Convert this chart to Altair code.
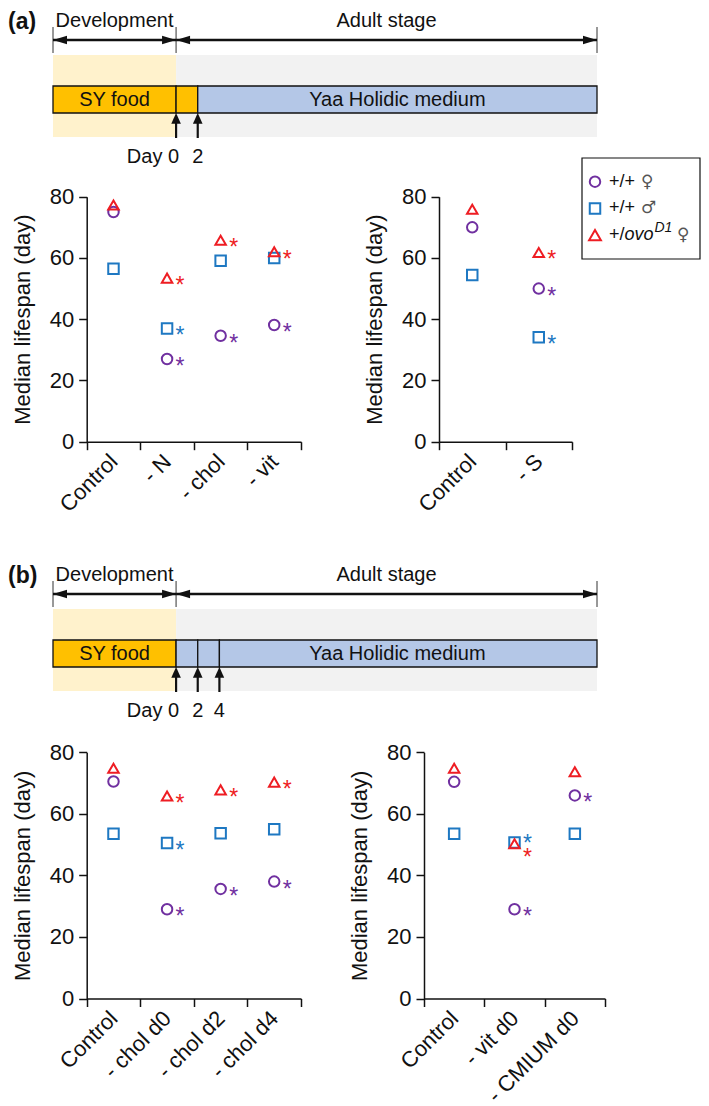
import altair as alt
import pandas as pd

FONT = "Liberation Sans"
INK = "#111111"
W, H = 693, 1098

# ---------------- series (shared by all panels) ----------------
series_keys = ["wt_f", "wt_m", "ovo_f"]
series_colors = ["#7030A0", "#1E78C2", "#EE1D23"]
series_shapes = ["circle", "square", "triangle-up"]
series_sizes = [110, 110, 140]

# ---------------- (a) left panel ----------------
a1_cats = ["Control", "- N", "- chol", "- vit"]
a1_wt_f = [75.0, 27.0, 34.6, 38.1]
a1_wt_m = [56.5, 37.0, 59.1, 60.0]
a1_ovo_f = [77.3, 53.4, 65.8, 62.0]
a1_sig_wt_f = [0, 1, 1, 1]
a1_sig_wt_m = [0, 1, 0, 0]
a1_sig_ovo_f = [0, 1, 1, 1]

# ---------------- (a) right panel ----------------
a2_cats = ["Control", "- S"]
a2_wt_f = [70.0, 50.0]
a2_wt_m = [54.4, 34.1]
a2_ovo_f = [75.9, 61.8]
a2_sig_wt_f = [0, 1]
a2_sig_wt_m = [0, 1]
a2_sig_ovo_f = [0, 1]

# ---------------- (b) left panel ----------------
b1_cats = ["Control", "- chol d0", "- chol d2", "- chol d4"]
b1_wt_f = [70.5, 29.0, 35.6, 38.0]
b1_wt_m = [53.5, 50.5, 53.7, 55.0]
b1_ovo_f = [74.8, 65.8, 67.8, 70.3]
b1_sig_wt_f = [0, 1, 1, 1]
b1_sig_wt_m = [0, 1, 0, 0]
b1_sig_ovo_f = [0, 1, 1, 1]

# ---------------- (b) right panel ----------------
b2_cats = ["Control", "- vit d0", "- CMIUM d0"]
b2_wt_f = [70.4, 29.0, 66.0]
b2_wt_m = [53.5, 50.7, 53.5]
b2_ovo_f = [74.8, 50.3, 73.7]
b2_sig_wt_f = [0, 1, 1]
b2_sig_wt_m = [0, 1, 0]
b2_sig_ovo_f = [0, 1, 0]

y_ticks = [0, 20, 40, 60, 80]
y_title = "Median lifespan (day)"

# ---------------- legend text pieces ----------------
legend_prefix = ["+/+", "+/+", "+/"]
legend_italic = ["", "", "ovo"]
legend_sup = ["", "", "D1"]
legend_sex = ["\u2640", "\u2642", "\u2640"]

# ---------------- timeline schematic ----------------
stage_names = ["Development", "Adult stage"]
stage_edges = [0.0, 10.0, 44.2]          # schematic units
stage_fills = ["#FFF2CC", "#F2F2F2"]
diet_names = ["SY food", "Yaa Holidic medium"]
diet_fills = ["#FFC000", "#B4C7E7"]
a_marker_days = [0, 2]
a_switch_day = 2
b_marker_days = [0, 2, 4]
b_switch_day = 0
DAY_UNIT = 0.88

HEAD_R = "M1,0L-1,-0.6L-1,0.6Z"
HEAD_L = "M-1,0L1,-0.6L1,0.6Z"
HEAD_U = "M0,-1L-0.8,0.8L0.8,0.8Z"


def day_x(d):
    return stage_edges[1] + DAY_UNIT * d


def timeline(letter, marker_days, switch_day, y0):
    xs = alt.Scale(domain=[stage_edges[0], stage_edges[-1]], range=[45, 589])

    def X(field):
        return alt.X(f"{field}:Q", scale=xs, axis=None)

    def Y(v):
        return alt.value(y0 + v)

    stages = pd.DataFrame({"name": stage_names, "start": stage_edges[:-1],
                           "end": stage_edges[1:], "fill": stage_fills})
    stages["mid"] = (stages["start"] + stages["end"]) / 2
    edges = pd.DataFrame({"x": stage_edges})
    cuts = [stage_edges[0], stage_edges[1]] + [day_x(d) for d in marker_days[1:]] + [stage_edges[-1]]
    segs = pd.DataFrame({"start": cuts[:-1], "end": cuts[1:]})
    segs["fill"] = [diet_fills[0] if s < day_x(switch_day) else diet_fills[1] for s in segs["start"]]
    dlabels = pd.DataFrame({"name": diet_names,
                            "mid": [(stage_edges[0] + stage_edges[1]) / 2,
                                    (day_x(2) + stage_edges[-1]) / 2]})
    days = pd.DataFrame({"x": [day_x(d) for d in marker_days],
                         "label": [("Day %d" if i == 0 else "%d") % d for i, d in enumerate(marker_days)]})

    layers = [
        alt.Chart(stages).mark_rect().encode(
            x=X("start"), x2="end", y=Y(47), y2=Y(129),
            color=alt.Color("fill:N", scale=None)),
        alt.Chart(edges).mark_rule(color="#333333", strokeWidth=1).encode(
            x=X("x"), y=Y(19), y2=Y(45)),
        alt.Chart(stages).mark_rule(color=INK, strokeWidth=2.5).encode(
            x=X("start"), x2="end", y=Y(32)),
        alt.Chart(stages).mark_point(shape=HEAD_L, size=196, filled=True, color=INK,
                                     opacity=1, xOffset=7).encode(x=X("start"), y=Y(32)),
        alt.Chart(stages).mark_point(shape=HEAD_R, size=196, filled=True, color=INK,
                                     opacity=1, xOffset=-7).encode(x=X("end"), y=Y(32)),
        alt.Chart(stages).mark_text(font=FONT, fontSize=20, baseline="top", align="center",
                                    color=INK).encode(x=X("mid"), y=Y(3), text="name:N"),
        alt.Chart(segs).mark_rect(stroke=INK, strokeWidth=1.3).encode(
            x=X("start"), x2="end", y=Y(78), y2=Y(105),
            color=alt.Color("fill:N", scale=None)),
        alt.Chart(dlabels).mark_text(font=FONT, fontSize=20, baseline="middle", align="center",
                                     color=INK).encode(x=X("mid"), y=Y(92), text="name:N"),
        alt.Chart(days).mark_rule(color=INK, strokeWidth=2.2).encode(
            x=X("x"), y=Y(110), y2=Y(130)),
        alt.Chart(days).mark_point(shape=HEAD_U, size=144, filled=True, color=INK,
                                   opacity=1, yOffset=6).encode(x=X("x"), y=Y(105)),
        alt.Chart(days.iloc[:1]).mark_text(font=FONT, fontSize=20, baseline="middle", align="right",
                                           dx=3, color=INK).encode(x=X("x"), y=Y(149), text="label:N"),
        alt.Chart(days.iloc[1:]).mark_text(font=FONT, fontSize=20, baseline="middle", align="center",
                                           color=INK).encode(x=X("x"), y=Y(149), text="label:N"),
        alt.Chart(pd.DataFrame({"t": [letter]})).mark_text(
            font=FONT, fontSize=23, fontWeight="bold", align="left", baseline="top", color=INK
        ).encode(x=alt.value(0), y=Y(3), text="t:N"),
    ]
    return alt.layer(*layers)


def long_table(cats, vals, sigs):
    rows = []
    for key, v, s in zip(series_keys, vals, sigs):
        for c, val, sg in zip(cats, v, s):
            rows.append({"cat": c, "series": key, "value": val, "sig": bool(sg)})
    return pd.DataFrame(rows)


def star_table(df):
    st = df[df["sig"]].copy()
    for cat in st["cat"].unique():
        idx = st.index[st["cat"] == cat]
        order = st.loc[idx, "value"].sort_values().index
        for lo, hi in zip(order[:-1], order[1:]):
            if st.loc[hi, "value"] - st.loc[lo, "value"] < 3:
                mid = (st.loc[hi, "value"] + st.loc[lo, "value"]) / 2
                st.loc[hi, "value"] = mid + 2.3
                st.loc[lo, "value"] = mid - 2.3
    return st


def scatter(cats, vals, sigs, x_range, y_range):
    df = long_table(cats, vals, sigs)
    st = star_table(df)
    y_axis = alt.Axis(orient="left", offset=-x_range[0], values=y_ticks, title=y_title, grid=False,
                      tickSize=8, tickWidth=1.5, tickColor=INK, domainColor=INK, domainWidth=1.5,
                      labelFont=FONT, labelFontSize=22, labelColor=INK, labelPadding=5,
                      titleFont=FONT, titleFontSize=22, titleFontWeight="normal", titleColor=INK,
                      titlePadding=15)
    x_axis = alt.Axis(orient="bottom", offset=y_range[0] - H, title=None, tickBand="extent",
                      labelAngle=-45, labelAlign="right", labelBaseline="middle", labelFont=FONT,
                      labelFontSize=22, labelColor=INK, labelPadding=8, tickSize=8, tickWidth=1.5,
                      tickColor=INK, domainColor=INK, domainWidth=1.5, labelOverlap=False, grid=False)
    x_enc = alt.X("cat:N", sort=cats, title=None,
                  scale=alt.Scale(type="band", domain=cats, range=list(x_range),
                                  paddingInner=0, paddingOuter=0),
                  axis=x_axis)
    y_enc = alt.Y("value:Q", scale=alt.Scale(domain=[0, 80], range=list(y_range), nice=False, zero=False),
                  axis=y_axis)
    col = alt.Color("series:N", scale=alt.Scale(domain=series_keys, range=series_colors), legend=None)
    pts = alt.Chart(df).mark_point(filled=False, strokeWidth=2, opacity=1).encode(
        x=x_enc, y=y_enc, color=col,
        shape=alt.Shape("series:N", scale=alt.Scale(domain=series_keys, range=series_shapes), legend=None),
        size=alt.Size("series:N", scale=alt.Scale(domain=series_keys, range=series_sizes), legend=None))
    stars = alt.Chart(st).mark_text(text="*", font=FONT, fontSize=23, align="center",
                                    baseline="alphabetic", dx=13, dy=15).encode(
        x=x_enc, y=y_enc, color=col)
    return alt.layer(pts, stars)


def legend_layers(sym_x, row0, row_h, box):
    one = pd.DataFrame({"k": [0]})
    layers = [alt.Chart(one).mark_rect(fillOpacity=0, stroke=INK, strokeWidth=1.2).encode(
        x=alt.value(box[0]), x2=alt.value(box[1]), y=alt.value(box[2]), y2=alt.value(box[3]))]
    tx = sym_x + 14
    for i in range(len(series_keys)):
        yy = row0 + i * row_h
        layers.append(alt.Chart(one).mark_point(
            shape=series_shapes[i], filled=False, strokeWidth=2, size=series_sizes[i],
            color=series_colors[i], opacity=1).encode(x=alt.value(sym_x), y=alt.value(yy)))
        layers.append(alt.Chart(pd.DataFrame({"t": [legend_prefix[i]]})).mark_text(
            font=FONT, fontSize=18, align="left", baseline="middle", color=INK
        ).encode(x=alt.value(tx), y=alt.value(yy), text="t:N"))
        if legend_italic[i]:
            layers.append(alt.Chart(pd.DataFrame({"t": [legend_italic[i]]})).mark_text(
                font=FONT, fontSize=18, fontStyle="italic", align="left", baseline="middle", color=INK
            ).encode(x=alt.value(tx + 15.5), y=alt.value(yy), text="t:N"))
            layers.append(alt.Chart(pd.DataFrame({"t": [legend_sup[i]]})).mark_text(
                font=FONT, fontSize=14, fontStyle="italic", align="left", baseline="middle",
                color=INK, dy=-7
            ).encode(x=alt.value(tx + 45.5), y=alt.value(yy), text="t:N"))
            sx = tx + 68
        else:
            sx = tx + 32
        layers.append(alt.Chart(pd.DataFrame({"t": [legend_sex[i]]})).mark_text(
            font="DejaVu Sans", fontSize=17, align="left", baseline="middle", color="#555555"
        ).encode(x=alt.value(sx), y=alt.value(yy), text="t:N"))
    return layers


# plot rectangles (pixels inside the figure): x band range, y range (0 -> 80)
a_left = scatter(a1_cats, [a1_wt_f, a1_wt_m, a1_ovo_f],
                 [a1_sig_wt_f, a1_sig_wt_m, a1_sig_ovo_f], (78.7, 293), (433.7, 188.7))
a_right = scatter(a2_cats, [a2_wt_f, a2_wt_m, a2_ovo_f],
                  [a2_sig_wt_f, a2_sig_wt_m, a2_sig_ovo_f], (431, 564), (433.7, 188.7))
b_left = scatter(b1_cats, [b1_wt_f, b1_wt_m, b1_ovo_f],
                 [b1_sig_wt_f, b1_sig_wt_m, b1_sig_ovo_f], (78.7, 293), (990.5, 744.3))
b_right = scatter(b2_cats, [b2_wt_f, b2_wt_m, b2_ovo_f],
                  [b2_sig_wt_f, b2_sig_wt_m, b2_sig_ovo_f], (416, 597), (990.5, 744.3))

legend = legend_layers(587, 173.7, 26.7, (574, 692, 150, 251))

chart = alt.layer(
    timeline("(a)", a_marker_days, a_switch_day, 0),
    a_left, a_right,
    *legend,
    timeline("(b)", b_marker_days, b_switch_day, 554),
    b_left, b_right,
).resolve_scale(
    x="independent", y="independent", color="independent", shape="independent", size="independent"
).resolve_axis(
    x="independent", y="independent"
).properties(
    width=W, height=H, padding=0, autosize=alt.AutoSizeParams(type="none")
).configure(font=FONT).configure_view(strokeWidth=0)

chart.save("out.html", embed_options={"renderer": "svg", "actions": False})
